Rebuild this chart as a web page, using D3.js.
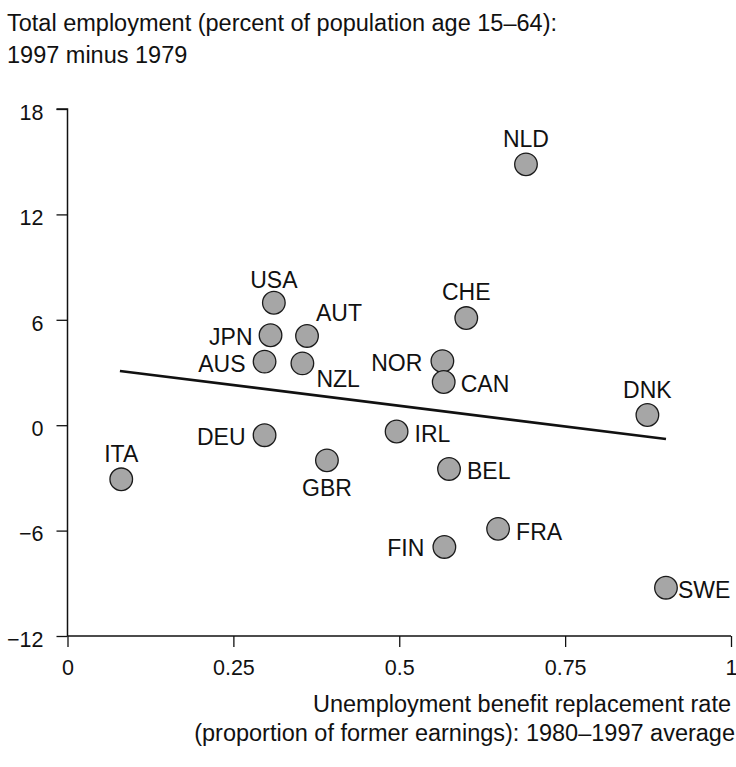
<!DOCTYPE html>
<html>
<head>
<meta charset="utf-8">
<script src="https://cdn.jsdelivr.net/npm/d3@7"></script>
<style>
  html, body { margin: 0; padding: 0; background: #fff; }
  svg { display: block; font-family: "Liberation Sans", Arial, Helvetica, sans-serif; }
</style>
</head>
<body>
<svg id="chart" width="736" height="767"></svg>
<script>
// ---- Data ----
const countries = ["NLD","USA","JPN","AUT","AUS","NZL","CHE","NOR","CAN","DNK","DEU","IRL","ITA","GBR","BEL","FRA","FIN","SWE"];
const replacementRate = [0.691,0.311,0.306,0.361,0.297,0.354,0.601,0.565,0.567,0.874,0.297,0.496,0.081,0.391,0.575,0.649,0.568,0.902];
const employmentChange = [14.85,6.97,5.12,5.08,3.62,3.52,6.10,3.65,2.46,0.58,-0.57,-0.36,-3.08,-2.00,-2.49,-5.90,-6.93,-9.25];
const fitLineX = [0.079, 0.902];
const fitLineY = [3.09, -0.79];
const xTicks = [0, 0.25, 0.5, 0.75, 1];
const xTickLabels = ["0", "0.25", "0.5", "0.75", "1"];
const yTicks = [-12, -6, 0, 6, 12, 18];
const yTickLabels = ["\u221212", "\u22126", "0", "6", "12", "18"];
const yTitleLines = ["Total employment (percent of population age 15\u201364):", "1997 minus 1979"];
const xTitleLines = ["Unemployment benefit replacement rate", "(proportion of former earnings): 1980\u20131997 average"];

// ---- Label placement (layout) ----
const labelPos = {
  NLD: {dx: 0, dy: -17, a: "middle"},
  USA: {dx: 0, dy: -15, a: "middle"},
  CHE: {dx: 0, dy: -18, a: "middle"},
  DNK: {dx: 0, dy: -17, a: "middle"},
  ITA: {dx: 0, dy: -17, a: "middle"},
  GBR: {dx: 0, dy: 36, a: "middle"},
  AUT: {dx: 9, dy: -15, a: "start"},
  NZL: {dx: 14, dy: 24, a: "start"},
  JPN: {dx: -18, dy: 10, a: "end"},
  AUS: {dx: -19, dy: 10, a: "end"},
  NOR: {dx: -20, dy: 10, a: "end"},
  DEU: {dx: -19, dy: 10, a: "end"},
  FIN: {dx: -20, dy: 9, a: "end"},
  CAN: {dx: 17, dy: 10, a: "start"},
  IRL: {dx: 18, dy: 10, a: "start"},
  BEL: {dx: 18, dy: 10, a: "start"},
  FRA: {dx: 18, dy: 11, a: "start"},
  SWE: {dx: 12, dy: 10, a: "start"}
};

const svg = d3.select("#chart");
const FS_TITLE = 23.5, FS_TICK = 21.5, FS_LABEL = 23;
const INK = "#111";

const x = d3.scaleLinear().domain([0, 1]).range([67.5, 731]);
const y = d3.scaleLinear().domain([-12, 18]).range([636, 109]);

// Title (y)
svg.append("text")
  .attr("font-size", FS_TITLE).attr("fill", INK)
  .selectAll("tspan").data(yTitleLines).join("tspan")
  .attr("x", 7).attr("y", (d, i) => 31 + i * 32)
  .text(d => d);

// Axes
const yAxis = d3.axisLeft(y).tickValues(yTicks)
  .tickFormat((d, i) => yTickLabels[i]).tickSize(11).tickPadding(13);
const xAxis = d3.axisBottom(x).tickValues(xTicks)
  .tickFormat((d, i) => xTickLabels[i]).tickSize(11).tickPadding(13);

const gy = svg.append("g").attr("transform", `translate(${x(0)},0)`).call(yAxis);
const gx = svg.append("g").attr("transform", `translate(0,${y(-12)})`).call(xAxis);

[gx, gy].forEach(g => {
  g.select(".domain").attr("stroke", INK).attr("stroke-width", 1.5);
  g.selectAll(".tick line").attr("stroke", INK).attr("stroke-width", 1.3);
  g.selectAll(".tick text").attr("font-size", FS_TICK).attr("fill", INK)
    .attr("font-family", "'Liberation Sans', Arial, Helvetica, sans-serif");
});
gy.selectAll(".tick text").attr("dy", "0.48em");
gy.select(".domain").attr("d", `M-11,${y(18)}H0V${y(-12)}`);
gx.select(".domain").attr("d", `M${x(0)},0H${x(1)}`);

// X title
svg.append("text")
  .attr("text-anchor", "end")
  .attr("font-size", FS_TITLE).attr("fill", INK)
  .selectAll("tspan").data(xTitleLines).join("tspan")
  .attr("x", (d, i) => i === 0 ? 731 : 735)
  .attr("y", (d, i) => 712 + i * 29)
  .text(d => d);

// Fit line
svg.append("line")
  .attr("x1", x(fitLineX[0])).attr("y1", y(fitLineY[0]))
  .attr("x2", x(fitLineX[1])).attr("y2", y(fitLineY[1]))
  .attr("stroke", INK).attr("stroke-width", 2.6);

// Points
const pts = countries.map((c, i) => ({c, xv: replacementRate[i], yv: employmentChange[i]}));
svg.append("g").selectAll("circle").data(pts).join("circle")
  .attr("cx", d => x(d.xv)).attr("cy", d => y(d.yv)).attr("r", 11.3)
  .attr("fill", "#a6a6a6").attr("stroke", "#1a1a1a").attr("stroke-width", 1.3);

svg.append("g").selectAll("text").data(pts).join("text")
  .attr("x", d => x(d.xv) + labelPos[d.c].dx)
  .attr("y", d => y(d.yv) + labelPos[d.c].dy)
  .attr("text-anchor", d => labelPos[d.c].a)
  .attr("font-size", FS_LABEL).attr("fill", INK)
  .text(d => d.c);
</script>
</body>
</html>
